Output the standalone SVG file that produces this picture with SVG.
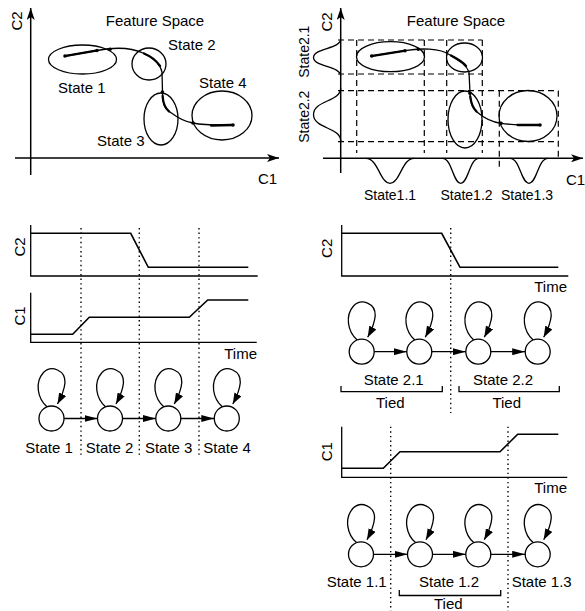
<svg xmlns="http://www.w3.org/2000/svg" width="585" height="611" viewBox="0 0 585 611">
<defs>
<style>
text{font-family:"Liberation Sans",Arial,Helvetica,sans-serif;font-size:15px;fill:#000}
.sm{font-size:14px}
.ln{fill:none;stroke:#000;stroke-width:1.3}
.th{fill:none;stroke:#000;stroke-width:1.6}
.hv{fill:none;stroke:#000;stroke-width:2.3;stroke-linecap:round}
.ds{fill:none;stroke:#000;stroke-width:1.2;stroke-dasharray:6 4}
.dt{fill:none;stroke:#000;stroke-width:1.4;stroke-dasharray:1.4 3.2}
.el{fill:none;stroke:#000;stroke-width:1.3}
.nd circle{fill:#fff;stroke:#000;stroke-width:1.3}
.tr{fill:none;stroke:#000;stroke-width:1.3;marker-end:url(#ta)}
.ax{fill:none;stroke:#000;stroke-width:1.5;marker-end:url(#axh)}
.dot{fill:#000}
.mid{text-anchor:middle}
.end{text-anchor:end}
</style>
<marker id="axh" viewBox="0 0 12 8" refX="12" refY="4" markerWidth="12" markerHeight="8" markerUnits="userSpaceOnUse" orient="auto"><path d="M0,0 L12,4 L0,8 L3,4 z"/></marker>
<marker id="ta" viewBox="0 0 13 7" refX="13" refY="3.5" markerWidth="13" markerHeight="7" markerUnits="userSpaceOnUse" orient="auto"><path d="M0,0 L13,3.5 L0,7 z"/></marker>
<marker id="lp" viewBox="0 0 11 8" refX="11" refY="4" markerWidth="11" markerHeight="8" markerUnits="userSpaceOnUse" orient="auto"><path d="M0,0 L11,4 L0,8 z"/></marker>
<path id="loop" fill="none" stroke="#000" stroke-width="1.3" marker-end="url(#lp)" d="M -4.5 -11.7 C -14 -20, -17 -36, -8 -46 C 0 -54, 14 -48, 13.5 -36 C 13 -29, 10 -22, 6 -14.5"/>
</defs>

<!-- Top-left feature space -->
<g id="feature-space-left">
<line class="ax" x1="30.7" y1="175" x2="30.7" y2="8"/>
<line class="ax" x1="15" y1="158" x2="279" y2="158"/>
<text transform="translate(21.5,21) rotate(-90)" class="mid">C2</text>
<text x="155" y="25.5" class="mid">Feature Space</text>
<text x="258" y="183.5">C1</text>
<ellipse class="el" cx="82.5" cy="59.5" rx="34" ry="14.5"/>
<ellipse class="el" cx="149" cy="64" rx="17" ry="16"/>
<ellipse class="el" cx="161" cy="119" rx="17" ry="26"/>
<ellipse class="el" cx="222" cy="115.5" rx="30" ry="24.5"/>
<text x="58" y="92.7">State 1</text>
<text x="168" y="50">State 2</text>
<text x="97" y="145.5">State 3</text>
<text x="199" y="87.5">State 4</text>
<path class="ln" d="M 65 56 L 97 50.5 C 110 48, 128 46, 143 53 C 152 57, 160 63, 162 72 L 162.5 92 C 162.5 102, 164 108, 170 112 C 178 118, 185 122, 193 123 C 200 124.5, 210 125.5, 233 125"/>
<path class="hv" d="M 66 55.8 L 96 50.7"/>
<path class="hv" d="M 144 53.5 C 150 56, 156 60, 160 66"/>
<path class="hv" d="M 162.6 96 C 163 103, 165 108, 169 111.5"/>
<path class="hv" d="M 211 125.5 L 232 125"/>
<circle class="dot" cx="65" cy="56" r="1.8"/><circle class="dot" cx="97" cy="50.5" r="1.8"/>
<circle class="dot" cx="110" cy="49.3" r="1.8"/><circle class="dot" cx="162.4" cy="92" r="1.8"/>
<circle class="dot" cx="193" cy="123" r="1.8"/><circle class="dot" cx="233" cy="125" r="1.8"/>
</g>

<!-- Top-right feature space -->
<g id="feature-space-right">
<line class="ax" x1="340.7" y1="173" x2="340.7" y2="8"/>
<line class="ax" x1="323" y1="158.3" x2="583" y2="158.3"/>
<text transform="translate(332,22) rotate(-90)" class="mid">C2</text>
<text x="456" y="25.5" class="mid">Feature Space</text>
<text x="566" y="185">C1</text>
<text transform="translate(308.5,51.7) rotate(-90)" class="mid sm">State2.1</text>
<text transform="translate(308.5,116.7) rotate(-90)" class="mid sm">State2.2</text>
<text x="390" y="199.5" class="mid sm">State1.1</text>
<text x="466.5" y="199.5" class="mid sm">State1.2</text>
<text x="527" y="199.5" class="mid sm">State1.3</text>
<path class="ds" d="M 338 40 H 482.3 M 338 74 H 482.3 M 338 90.7 H 558.3 M 338 141.7 H 558.3 M 356.7 40 V 153 M 424.3 40 V 153 M 446.7 40 V 153 M 482.3 40 V 153 M 499.3 90.7 V 167 M 558.3 90.7 V 160"/>
<path class="ln" d="M 340.7 39 C 340.7 49, 313.5 48, 313.5 57.5 C 313.5 67, 340.7 66, 340.7 76"/>
<path class="ln" d="M 340.7 88 C 340.7 102, 313.5 100, 313.5 114.5 C 313.5 129, 340.7 127, 340.7 141"/>
<path class="ln" d="M 366 158.3 C 378 158.3, 380 183.3, 390 183.3 C 400 183.3, 402 158.3, 414 158.3"/>
<path class="ln" d="M 442.5 158.3 C 452 158.3, 453 183.3, 460.7 183.3 C 468.4 183.3, 469.5 158.3, 479 158.3"/>
<path class="ln" d="M 510 158.3 C 520 158.3, 521 183.3, 529 183.3 C 537 183.3, 538 158.3, 548 158.3"/>
<ellipse class="el" cx="390.5" cy="56.7" rx="34" ry="15"/>
<ellipse class="el" cx="464.5" cy="57.5" rx="18" ry="14.5"/>
<ellipse class="el" cx="465" cy="119.5" rx="17" ry="28.5"/>
<ellipse class="el" cx="528" cy="116" rx="29" ry="25.5"/>
<path class="ln" d="M 371.7 56 L 405 50.7 C 420 48, 440 48, 450 55 C 458 60, 466 64, 469 72 L 470 93 C 470 103, 472 108, 477 112 C 485 119, 492 122, 501 123.3 C 508 124.5, 516 125, 540 125"/>
<path class="hv" d="M 372.7 55.8 L 404 50.9"/>
<path class="hv" d="M 451 55.5 C 457 58.5, 463 62, 466 66"/>
<path class="hv" d="M 470.3 96.5 C 471 103, 473 108, 476.5 111.5"/>
<path class="hv" d="M 517.5 125 L 539 125"/>
<circle class="dot" cx="371.7" cy="56" r="1.8"/><circle class="dot" cx="405" cy="50.7" r="1.8"/>
<circle class="dot" cx="418.3" cy="49.3" r="1.8"/><circle class="dot" cx="470" cy="93.3" r="1.8"/>
<circle class="dot" cx="501" cy="123.3" r="1.8"/><circle class="dot" cx="540" cy="125" r="1.8"/>
</g>

<!-- Middle-left time plots -->
<g id="plots-left">
<path class="ln" d="M 30.7 225 V 276 H 257.7"/>
<path class="th" d="M 30.7 233.3 L 130.7 233.3 L 148.3 267.3 L 248.3 267.3"/>
<text transform="translate(25,247) rotate(-90)" class="mid">C2</text>
<path class="ln" d="M 30.7 292.7 V 342.3 H 256.7"/>
<path class="th" d="M 30.7 334.3 L 72.7 334.3 L 89.3 317.3 L 189.3 317.3 L 207.7 300 L 248.3 300"/>
<text transform="translate(25,316) rotate(-90)" class="mid">C1</text>
<text x="257" y="358.5" class="end">Time</text>
<path class="dt" d="M 81 228 V 455 M 139.3 228 V 455 M 199 228 V 455"/>
<text x="49" y="453" class="mid">State 1</text>
<text x="109.5" y="453" class="mid">State 2</text>
<text x="168.7" y="453" class="mid">State 3</text>
<text x="227" y="453" class="mid">State 4</text>
</g>

<!-- Middle-right C2 plot -->
<g id="plot-right-c2">
<path class="ln" d="M 341.7 225 V 276 H 568.3"/>
<path class="th" d="M 341.7 233.3 L 441.7 233.3 L 460 267.3 L 558.3 267.3"/>
<text transform="translate(332,248.3) rotate(-90)" class="mid">C2</text>
<text x="567" y="291.7" class="end">Time</text>
<path class="dt" d="M 450.7 228 V 413"/>
<text x="393.7" y="385" class="mid">State 2.1</text>
<text x="503" y="385" class="mid">State 2.2</text>
<path class="ln" d="M 341 386 V 391.7 H 442.3 V 386 M 459 386 V 391.7 H 559.3 V 386"/>
<text x="390.3" y="408.3" class="mid">Tied</text>
<text x="506.7" y="408.3" class="mid">Tied</text>
</g>

<!-- Bottom-right C1 plot -->
<g id="plot-right-c1">
<path class="ln" d="M 341.7 426.7 V 477.3 H 567.3"/>
<path class="th" d="M 341.7 468.3 L 383.3 468.3 L 400 451.7 L 500 451.7 L 517.7 434.3 L 558.3 434.3"/>
<text transform="translate(332,451.7) rotate(-90)" class="mid">C1</text>
<text x="567" y="493.3" class="end">Time</text>
<path class="dt" d="M 390.7 426.7 V 611 M 508 426.7 V 611"/>
<text x="356.7" y="587" class="mid">State 1.1</text>
<text x="449" y="587" class="mid">State 1.2</text>
<text x="541.7" y="587" class="mid">State 1.3</text>
<path class="ln" d="M 399.3 590 V 595.5 H 500.7 V 590"/>
<text x="448.3" y="608.5" class="mid">Tied</text>
</g>

<!-- State nodes: left chain -->
<g id="node-L1" class="nd" transform="translate(51.5,418.5)"><circle r="12.5"/><use href="#loop"/></g>
<g id="node-L2" class="nd" transform="translate(110,418.5)"><circle r="12.5"/><use href="#loop"/></g>
<g id="node-L3" class="nd" transform="translate(168.3,418.5)"><circle r="12.5"/><use href="#loop"/></g>
<g id="node-L4" class="nd" transform="translate(226.8,418.5)"><circle r="12.5"/><use href="#loop"/></g>
<!-- State nodes: C2 chain -->
<g id="node-A1" class="nd" transform="translate(361.7,351.7)"><circle r="12.5"/><use href="#loop"/></g>
<g id="node-A2" class="nd" transform="translate(419.3,351.7)"><circle r="12.5"/><use href="#loop"/></g>
<g id="node-A3" class="nd" transform="translate(478.3,351.7)"><circle r="12.5"/><use href="#loop"/></g>
<g id="node-A4" class="nd" transform="translate(537.7,351.7)"><circle r="12.5"/><use href="#loop"/></g>
<!-- State nodes: C1 chain -->
<g id="node-B1" class="nd" transform="translate(361,554.3)"><circle r="12.5"/><use href="#loop"/></g>
<g id="node-B2" class="nd" transform="translate(420,554.3)"><circle r="12.5"/><use href="#loop"/></g>
<g id="node-B3" class="nd" transform="translate(478.3,554.3)"><circle r="12.5"/><use href="#loop"/></g>
<g id="node-B4" class="nd" transform="translate(537.7,554.3)"><circle r="12.5"/><use href="#loop"/></g>

<g id="connectors">
<line class="tr" x1="64" y1="418.5" x2="97.5" y2="418.5"/>
<line class="tr" x1="122.5" y1="418.5" x2="155.8" y2="418.5"/>
<line class="tr" x1="180.8" y1="418.5" x2="214.3" y2="418.5"/>
<line class="tr" x1="374.2" y1="351.7" x2="406.8" y2="351.7"/>
<line class="tr" x1="431.8" y1="351.7" x2="465.8" y2="351.7"/>
<line class="tr" x1="490.8" y1="351.7" x2="525.2" y2="351.7"/>
<line class="tr" x1="373.5" y1="554.3" x2="407.5" y2="554.3"/>
<line class="tr" x1="432.5" y1="554.3" x2="465.8" y2="554.3"/>
<line class="tr" x1="490.8" y1="554.3" x2="525.2" y2="554.3"/>
</g>
</svg>
